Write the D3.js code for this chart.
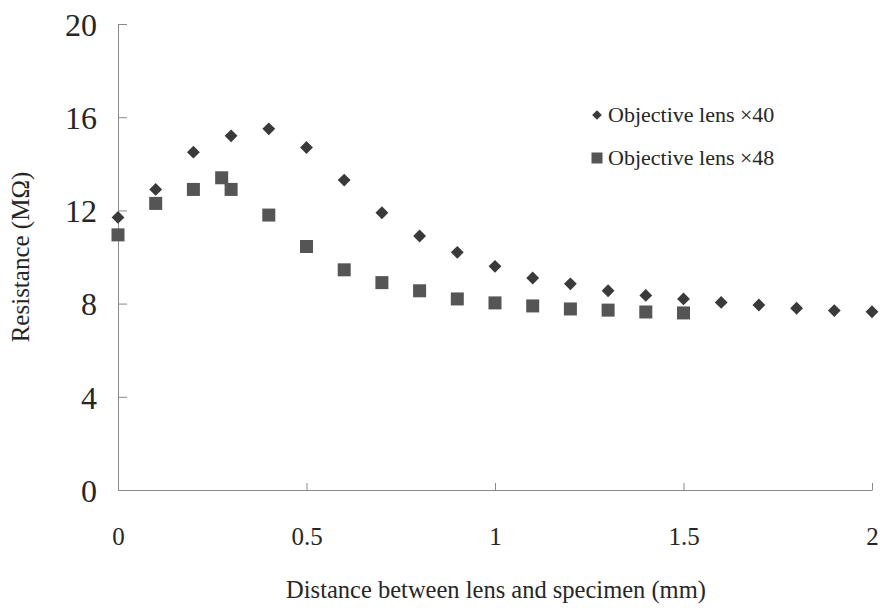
<!DOCTYPE html>
<html>
<head>
<meta charset="utf-8">
<script src="https://cdn.jsdelivr.net/npm/d3@7"></script>
<style>
  body { margin: 0; background: #fff; }
  text { font-family: "Liberation Serif", "Times New Roman", serif; fill: #262626; }
</style>
</head>
<body>
<div id="chart"></div>
<script>
// distance (mm) and resistance (MOhm)
var dist40 = [0, 0.1, 0.2, 0.3, 0.4, 0.5, 0.6, 0.7, 0.8, 0.9, 1.0,
              1.1, 1.2, 1.3, 1.4, 1.5, 1.6, 1.7, 1.8, 1.9, 2.0];
var res40 = [11.7, 12.9, 14.5, 15.2, 15.5, 14.7, 13.3, 11.9, 10.9, 10.2, 9.6,
             9.1, 8.85, 8.55, 8.35, 8.2, 8.05, 7.94, 7.8, 7.7, 7.65];

var dist48 = [0, 0.1, 0.2, 0.275, 0.3, 0.4, 0.5, 0.6, 0.7, 0.8, 0.9, 1.0,
              1.1, 1.2, 1.3, 1.4, 1.5];
var res48 = [10.95, 12.3, 12.9, 13.4, 12.9, 11.8, 10.45, 9.45, 8.9, 8.55, 8.2, 8.03,
             7.9, 7.77, 7.72, 7.64, 7.6];

var xTicks = [0, 0.5, 1, 1.5, 2];
var yTicks = [0, 4, 8, 12, 16, 20];

var seriesNames = ["Objective lens \u00d740", "Objective lens \u00d748"];

const margin = { top: 24, right: 8, bottom: 118, left: 118 },
  width = 880 - margin.left - margin.right,
  height = 608 - margin.top - margin.bottom;

const root = d3.select("#chart")
  .append("svg")
  .attr("width", 880)
  .attr("height", 608);

const svg = root.append("g")
  .attr("transform", `translate(${margin.left}, ${margin.top})`);

const x = d3.scaleLinear().domain([0, 2]).range([0, 754]);
const y = d3.scaleLinear().domain([0, 20]).range([466, 0]);

// X axis, ticks pointing up into the plot
const xAxis = svg.append("g")
  .attr("transform", `translate(0, ${y(0)})`)
  .call(d3.axisBottom(x).tickValues(xTicks).tickSize(-7).tickSizeOuter(0)
    .tickFormat(d3.format("")));
xAxis.select(".domain").attr("stroke", "#8a8a8a");
xAxis.selectAll(".tick line").attr("stroke", "#8a8a8a");
xAxis.selectAll(".tick text")
  .attr("y", 37)
  .attr("font-size", 25)
  .attr("font-family", "Liberation Serif")
  .attr("fill", "#262626");

// Y axis, ticks pointing right
const yAxis = svg.append("g")
  .call(d3.axisLeft(y).tickValues(yTicks).tickSize(-9).tickSizeOuter(0));
yAxis.select(".domain").attr("stroke", "#8a8a8a");
yAxis.selectAll(".tick line").attr("stroke", "#8a8a8a");
yAxis.selectAll(".tick text")
  .attr("x", -21)
  .attr("dy", "0.35em")
  .attr("font-size", 32)
  .attr("font-family", "Liberation Serif")
  .attr("fill", "#262626");

// axis titles
root.append("text")
  .attr("x", 496)
  .attr("y", 598)
  .attr("text-anchor", "middle")
  .attr("font-size", 24.5)
  .text("Distance between lens and specimen (mm)");

root.append("text")
  .attr("transform", "translate(29, 257) rotate(-90)")
  .attr("text-anchor", "middle")
  .attr("font-size", 25)
  .text("Resistance (M\u03a9)");

// diamonds
const diamond = d3.symbol().type(d3.symbolDiamond2).size(105);
svg.append("g")
  .selectAll("path")
  .data(dist40.map((d, i) => [d, res40[i]]))
  .join("path")
  .attr("d", diamond)
  .attr("transform", d => `translate(${x(d[0])}, ${y(d[1])})`)
  .attr("fill", "#3a3a3a");

// squares
svg.append("g")
  .selectAll("rect")
  .data(dist48.map((d, i) => [d, res48[i]]))
  .join("rect")
  .attr("x", d => x(d[0]) - 6.5)
  .attr("y", d => y(d[1]) - 6.5)
  .attr("width", 13)
  .attr("height", 13)
  .attr("fill", "#555");

// legend
const legend = root.append("g").attr("transform", "translate(597, 115)");
legend.append("path")
  .attr("d", d3.symbol().type(d3.symbolDiamond2).size(60))
  .attr("fill", "#3a3a3a");
legend.append("rect")
  .attr("x", -5.5).attr("y", 37.5).attr("width", 11).attr("height", 11)
  .attr("fill", "#555");
legend.selectAll("text.lab")
  .data(seriesNames)
  .join("text")
  .attr("class", "lab")
  .attr("x", 11)
  .attr("y", (d, i) => i * 43 + 7)
  .attr("font-size", 22)
  .text(d => d);
</script>
</body>
</html>
